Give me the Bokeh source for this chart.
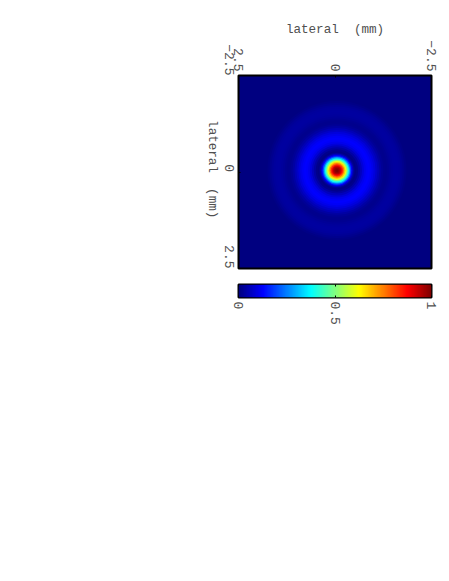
from bokeh.plotting import figure
from bokeh.layouts import column
from bokeh.models import FixedTicker, LinearAxis, LinearColorMapper
from bokeh.embed import file_html
from bokeh.resources import INLINE
import numpy as np
import math

x_ticks = [-2.5, 0, 2.5]
y_ticks = [-2.5, 0, 2.5]
cbar_ticks = [0, 0.5, 1]
axis_title = "lateral \u00a0(mm)"
center = [-0.05, -0.04]
radii = [1.85,1.8,1.75,1.7,1.65,1.6,1.55,1.5,1.45,1.4,1.35,1.3,1.25,1.2,1.15,1.1,1.05,1.0,0.95,0.9,0.85,0.8,0.75,0.7,0.65,0.6,0.55,0.5,0.46,0.43,0.4,0.37,0.34,0.31,0.28,0.25,0.22,0.19,0.16,0.13,0.1,0.07,0.04]
values = [0.0,0.006,0.014,0.022,0.028,0.031,0.032,0.031,0.028,0.023,0.017,0.013,0.014,0.022,0.035,0.052,0.07,0.09,0.105,0.118,0.125,0.12,0.108,0.088,0.06,0.035,0.012,0.004,0.02,0.06,0.12,0.2,0.3,0.4,0.5,0.6,0.68,0.76,0.84,0.9,0.95,0.98,1.0]

def jet(v):
    c = lambda t: max(0.0, min(1.0, 1.5 - abs(4 * v - t)))
    return "#%02x%02x%02x" % (round(255*c(3)), round(255*c(2)), round(255*c(1)))

FONT = "Liberation Mono"
INK = "#505050"

def style(ax, standoff):
    ax.major_tick_in = 2
    ax.major_tick_out = 0
    ax.minor_tick_line_color = None
    ax.major_tick_line_color = "black"
    ax.axis_line_color = None
    ax.major_label_text_font = FONT
    ax.major_label_text_font_size = "13px"
    ax.major_label_text_color = INK
    ax.major_label_orientation = -math.pi / 2
    ax.major_label_standoff = standoff

p = figure(width=441, height=272, x_range=(2.5, -2.5), y_range=(2.5, -2.5),
           output_backend="svg", toolbar_location=None, x_axis_location="above",
           min_border_left=238, min_border_right=10, min_border_top=75, min_border_bottom=4,
           background_fill_color=jet(0), outline_line_color="black", outline_line_width=2)
p.grid.visible = False
for r, v in zip(radii, values):
    p.circle(x=[center[0]], y=[center[1]], radius=r, fill_color=jet(v), line_color=None)
p.xaxis[0].ticker = FixedTicker(ticks=x_ticks)
p.yaxis[0].ticker = FixedTicker(ticks=y_ticks)
style(p.xaxis[0], 4)
style(p.yaxis[0], 9)
p.xaxis[0].major_label_overrides = {-2.5: "−2.5", 0: "0", 2.5: "2.5"}
p.yaxis[0].major_label_overrides = {-2.5: "−2.5", 0: "0", 2.5: "2.5"}
p.xaxis[0].axis_label = axis_title
p.xaxis[0].axis_label_text_font = FONT
p.xaxis[0].axis_label_text_font_style = "normal"
p.xaxis[0].axis_label_text_font_size = "12.6px"
p.xaxis[0].axis_label_text_color = INK
p.xaxis[0].axis_label_standoff = 0

# The left title reads downwards: a second left axis carries it, and a rotated
# tick label ends at its tick, so the tick marks where the title ends.
title_end = 1.2
left_title = LinearAxis(ticker=FixedTicker(ticks=[title_end]),
                        major_label_overrides={title_end: axis_title})
style(left_title, 6)
left_title.major_tick_in = 0
left_title.major_tick_line_color = None
left_title.major_label_text_font_size = "12.6px"
p.add_layout(left_title, "left")

c = figure(width=441, height=60, x_range=(0, 1), y_range=(0, 1),
           output_backend="svg", toolbar_location=None,
           min_border_left=238, min_border_right=10, min_border_top=12, min_border_bottom=35,
           outline_line_color="black", outline_line_width=2)
c.grid.visible = False
c.yaxis.visible = False
mapper = LinearColorMapper(palette=[jet(i / 255) for i in range(256)], low=0, high=1)
c.image(image=[np.array([[i / 255 for i in range(256)]])], x=0, y=0, dw=1, dh=1, color_mapper=mapper)
c.xaxis[0].ticker = FixedTicker(ticks=cbar_ticks)
style(c.xaxis[0], 4)
top = LinearAxis(ticker=FixedTicker(ticks=cbar_ticks))
top.major_tick_in = 2; top.major_tick_out = 0; top.minor_tick_line_color = None
top.axis_line_color = None; top.major_tick_line_color = "black"
top.major_label_text_color = None
c.add_layout(top, "above")

open("out.html", "w").write(file_html(column(p, c, spacing=0), INLINE))
